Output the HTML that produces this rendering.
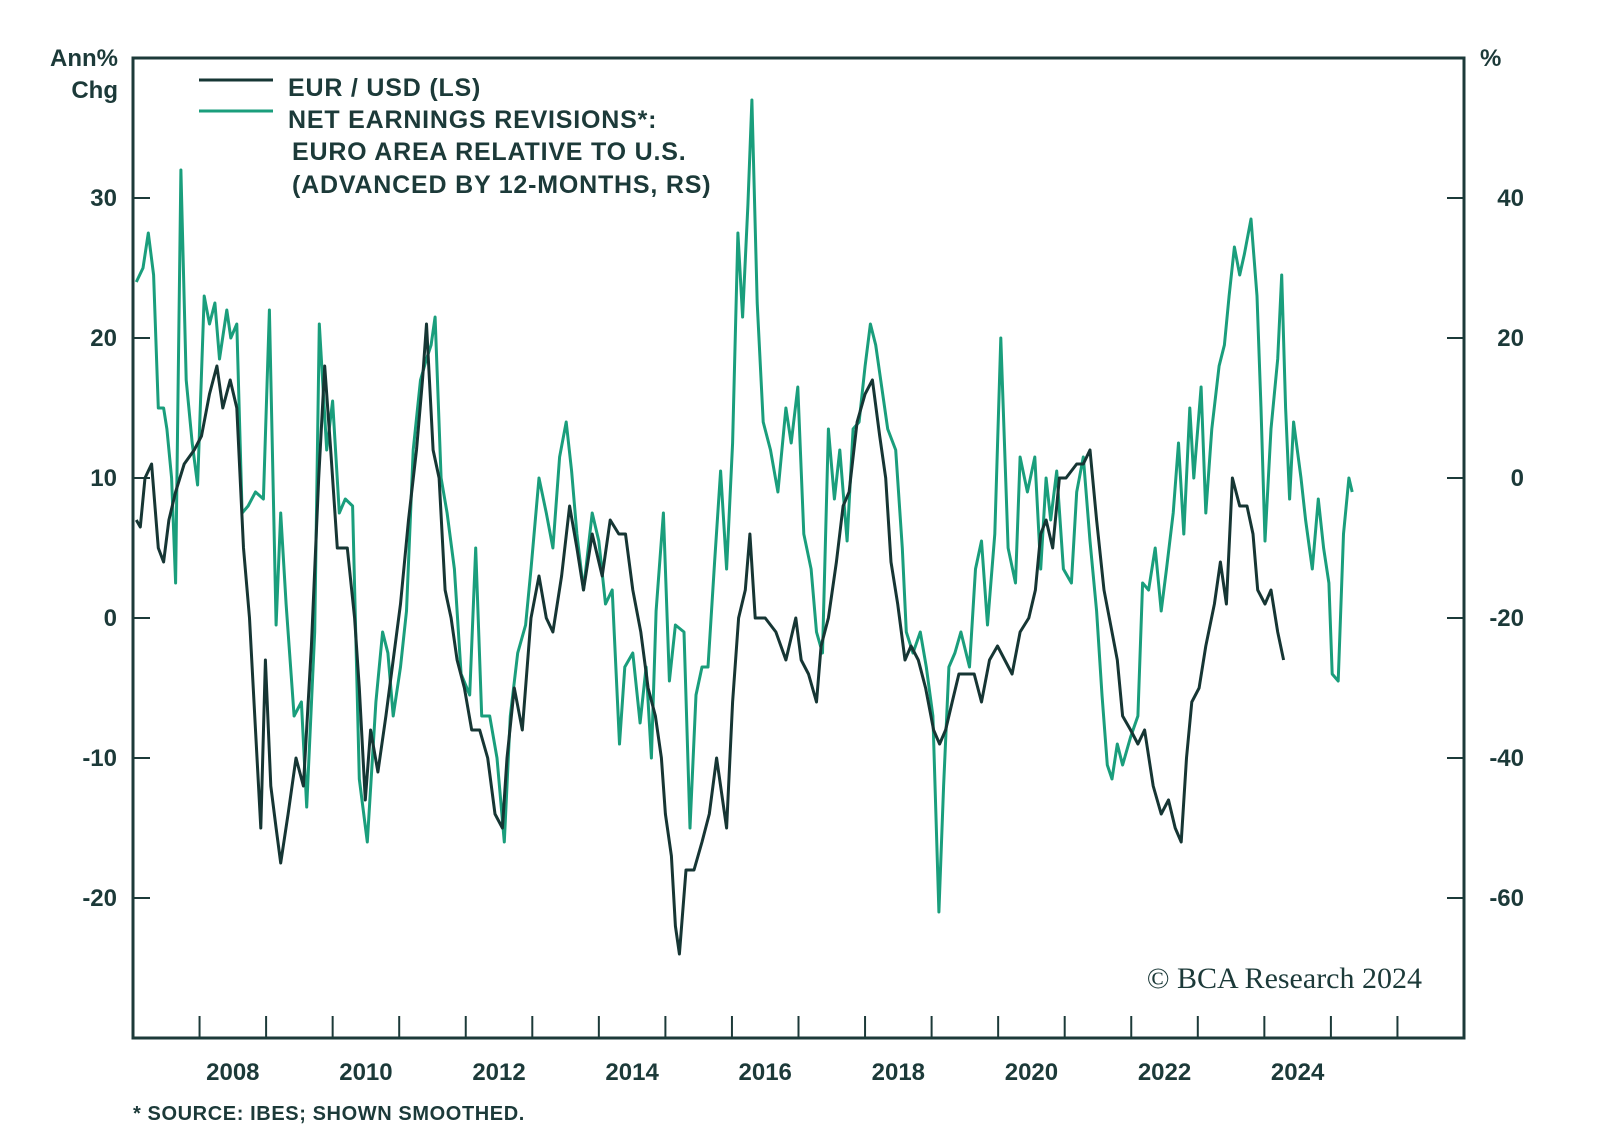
<!DOCTYPE html>
<html><head><meta charset="utf-8"><style>
body{margin:0;background:#fff;}
svg{display:block;font-family:"Liberation Sans",sans-serif;}
.t{fill:#1c3a39;font-weight:bold;}
</style></head><body>
<svg id="chart" width="1600" height="1140" viewBox="0 0 1600 1140">
<g id="axes"></g>
<g id="series"></g>
<g id="legend">
<line x1="199" y1="80" x2="273" y2="80" stroke="#163634" stroke-width="3"/>
<line x1="199" y1="111" x2="273" y2="111" stroke="#1a9e7c" stroke-width="3"/>
<text class="t" x="288" y="96" font-size="25" letter-spacing="0.8">EUR / USD (LS)</text>
<text class="t" x="288" y="128" font-size="25" letter-spacing="0.8">NET EARNINGS REVISIONS*:</text>
<text class="t" x="292" y="160" font-size="25" letter-spacing="0.8">EURO AREA RELATIVE TO U.S.</text>
<text class="t" x="292" y="193" font-size="25" letter-spacing="0.8">(ADVANCED BY 12-MONTHS, RS)</text>
</g>
<text class="t" x="118" y="66" font-size="24" text-anchor="end">Ann%</text>
<text class="t" x="118" y="98" font-size="24" text-anchor="end">Chg</text>
<text class="t" x="1480" y="66" font-size="24">%</text>
<text x="1422" y="988" font-size="30" text-anchor="end" fill="#1c3a39" font-family="Liberation Serif,serif">© BCA Research 2024</text>
<text class="t" x="133" y="1120" font-size="20" letter-spacing="0.6">*  SOURCE: IBES; SHOWN SMOOTHED.</text>
</svg>
<script>
const yearTicks=[2008,2009,2010,2011,2012,2013,2014,2015,2016,2017,2018,2019,2020,2021,2022,2023,2024,2025,2026];
const yearLabels=[2008,2010,2012,2014,2016,2018,2020,2022,2024];
const leftTicks=[30,20,10,0,-10,-20];
const rightTicks=[40,20,0,-20,-40,-60];
const eurDates=[2007.05,2007.11,2007.18,2007.28,2007.38,2007.46,2007.54,2007.64,2007.77,2007.92,2008.03,2008.15,2008.26,2008.35,2008.46,2008.56,2008.66,2008.75,2008.84,2008.92,2008.99,2009.07,2009.15,2009.22,2009.33,2009.45,2009.56,2009.68,2009.79,2009.88,2009.97,2010.07,2010.22,2010.33,2010.40,2010.49,2010.57,2010.68,2010.80,2010.91,2011.02,2011.14,2011.26,2011.35,2011.41,2011.51,2011.60,2011.69,2011.78,2011.87,2011.98,2012.09,2012.21,2012.33,2012.44,2012.55,2012.62,2012.73,2012.85,2012.98,2013.10,2013.21,2013.31,2013.44,2013.56,2013.67,2013.77,2013.90,2014.05,2014.17,2014.30,2014.40,2014.51,2014.63,2014.74,2014.85,2014.94,2015.00,2015.09,2015.15,2015.21,2015.31,2015.43,2015.55,2015.66,2015.77,2015.86,2015.92,2016.01,2016.10,2016.20,2016.27,2016.35,2016.50,2016.66,2016.81,2016.96,2017.04,2017.15,2017.27,2017.34,2017.45,2017.57,2017.67,2017.76,2017.88,2018.00,2018.11,2018.22,2018.31,2018.39,2018.49,2018.60,2018.69,2018.80,2018.91,2019.03,2019.12,2019.21,2019.31,2019.41,2019.54,2019.64,2019.75,2019.87,2019.99,2020.10,2020.21,2020.33,2020.46,2020.56,2020.64,2020.72,2020.82,2020.92,2021.02,2021.18,2021.28,2021.38,2021.48,2021.59,2021.71,2021.79,2021.87,2021.99,2022.10,2022.20,2022.33,2022.45,2022.56,2022.66,2022.75,2022.83,2022.91,2023.02,2023.12,2023.25,2023.34,2023.43,2023.52,2023.63,2023.74,2023.83,2023.90,2024.01,2024.10,2024.20,2024.29];
const eurValues=[7,6.5,10,11,5,4,7,9,11,12,13,16,18,15,17,15,5,0,-8,-15,-3,-12,-15,-17.5,-14,-10,-12,-2,10,18,12,5,5,0,-5,-13,-8,-11,-7,-3,1,7,12,17,21,12,10,2,0,-3,-5,-8,-8,-10,-14,-15,-10,-5,-8,0,3,0,-1,3,8,5,2,6,3,7,6,6,2,-1,-5,-7,-10,-14,-17,-22,-24,-18,-18,-16,-14,-10,-13,-15,-6,0,2,6,0,0,-1,-3,0,-3,-4,-6,-2,0,4,8,9,14,16,17,13,10,4,1,-3,-2,-3,-5,-8,-9,-8,-6,-4,-4,-4,-6,-3,-2,-3,-4,-1,0,2,6,7,5,10,10,11,11,12,7,2,-1,-3,-7,-8,-9,-8,-12,-14,-13,-15,-16,-10,-6,-5,-2,1,4,1,10,8,8,6,2,1,2,-1,-3];
const revDates=[2007.05,2007.15,2007.23,2007.31,2007.38,2007.46,2007.51,2007.58,2007.64,2007.72,2007.80,2007.89,2007.97,2008.07,2008.15,2008.23,2008.30,2008.41,2008.47,2008.56,2008.64,2008.73,2008.84,2008.96,2009.05,2009.15,2009.22,2009.30,2009.42,2009.53,2009.61,2009.73,2009.80,2009.91,2010.00,2010.10,2010.19,2010.30,2010.40,2010.52,2010.65,2010.75,2010.83,2010.91,2011.02,2011.11,2011.21,2011.32,2011.41,2011.48,2011.54,2011.63,2011.72,2011.83,2011.93,2012.06,2012.15,2012.24,2012.36,2012.47,2012.58,2012.67,2012.78,2012.90,2012.98,2013.10,2013.21,2013.31,2013.41,2013.51,2013.59,2013.67,2013.77,2013.90,2014.00,2014.10,2014.20,2014.31,2014.39,2014.51,2014.62,2014.71,2014.79,2014.86,2014.97,2015.06,2015.15,2015.28,2015.37,2015.46,2015.55,2015.64,2015.74,2015.83,2015.92,2016.01,2016.09,2016.16,2016.24,2016.30,2016.38,2016.47,2016.58,2016.69,2016.81,2016.89,2016.99,2017.08,2017.19,2017.27,2017.36,2017.45,2017.54,2017.62,2017.73,2017.82,2017.91,2018.00,2018.08,2018.16,2018.25,2018.34,2018.46,2018.56,2018.62,2018.72,2018.83,2018.92,2019.02,2019.11,2019.18,2019.26,2019.35,2019.44,2019.57,2019.66,2019.75,2019.84,2019.95,2020.04,2020.15,2020.26,2020.33,2020.44,2020.55,2020.64,2020.72,2020.79,2020.88,2020.98,2021.10,2021.18,2021.28,2021.38,2021.48,2021.56,2021.64,2021.71,2021.79,2021.87,2021.99,2022.10,2022.17,2022.26,2022.36,2022.45,2022.53,2022.63,2022.71,2022.79,2022.88,2022.94,2023.05,2023.12,2023.21,2023.32,2023.40,2023.47,2023.55,2023.63,2023.70,2023.80,2023.89,2023.95,2024.01,2024.10,2024.20,2024.26,2024.32,2024.38,2024.44,2024.55,2024.62,2024.72,2024.81,2024.89,2024.97,2025.02,2025.11,2025.19,2025.27,2025.32];
const revValues=[28,30,35,29,10,10,7,0,-15,44,14,5,-1,26,22,25,17,24,20,22,-5,-4,-2,-3,24,-21,-5,-18,-34,-32,-47,-22,22,4,11,-5,-3,-4,-43,-52,-32,-22,-25,-34,-27,-19,4,14,17,19,23,0,-5,-13,-28,-31,-10,-34,-34,-40,-52,-34,-25,-21,-13,0,-5,-10,3,8,1,-8,-16,-5,-9,-18,-16,-38,-27,-25,-35,-27,-40,-19,-5,-29,-21,-22,-50,-31,-27,-27,-12,1,-13,5,35,23,39,54,25,8,4,-2,10,5,13,-8,-13,-22,-25,7,-3,4,-9,7,8,16,22,19,13,7,4,-10,-22,-25,-22,-27,-34,-62,-44,-27,-25,-22,-27,-13,-9,-21,-8,20,-10,-15,3,-2,3,-13,0,-6,1,-13,-15,-2,3,-9,-19,-31,-41,-43,-38,-41,-37,-34,-15,-16,-10,-19,-13,-5,5,-8,10,0,13,-5,7,16,19,26,33,29,32,37,26,10,-9,7,17,29,10,-3,8,0,-6,-13,-3,-10,-15,-28,-29,-8,0,-2];

const L=133,R=1464,T=58,B=1038,X0=2007,X1=2027,YMIN=-30,YMAX=40,RMIN=-80,RMAX=60;
const xs=t=>L+(t-X0)/(X1-X0)*(R-L);
const yl=v=>B-(v-YMIN)/(YMAX-YMIN)*(B-T);
const yr=v=>B-(v-RMIN)/(RMAX-RMIN)*(B-T);
const NS='http://www.w3.org/2000/svg';
const ax=document.getElementById('axes'),se=document.getElementById('series');
function mk(tag,attrs,parent){const e=document.createElementNS(NS,tag);for(const k in attrs)e.setAttribute(k,attrs[k]);parent.appendChild(e);return e;}
const C='#1c3a39';
let f=mk('rect',{x:L,y:T,width:R-L,height:B-T,fill:'none',stroke:C,'stroke-width':3},ax);


yearTicks.forEach(y=>{const l=mk('line',{x1:xs(y),x2:xs(y),y1:B,y2:B-22,stroke:C,'stroke-width':2},ax);

});
yearLabels.forEach(y=>{const t=mk('text',{x:xs(y+0.5),y:1080,'text-anchor':'middle','font-size':24,class:'t'},ax);t.textContent=y;

});
leftTicks.forEach(v=>{const l=mk('line',{x1:L,x2:L+17,y1:yl(v),y2:yl(v),stroke:C,'stroke-width':2},ax);


const t=mk('text',{x:117,y:yl(v)+8,'text-anchor':'end','font-size':24,class:'t'},ax);t.textContent=v;

});
rightTicks.forEach(v=>{const l=mk('line',{x1:R-17,x2:R,y1:yr(v),y2:yr(v),stroke:C,'stroke-width':2},ax);


const t=mk('text',{x:1524,y:yr(v)+8,'text-anchor':'end','font-size':24,class:'t'},ax);t.textContent=v;

});
const pr=mk('path',{d:revDates.map((d,i)=>(i?'L':'M')+xs(d).toFixed(1)+' '+yr(revValues[i]).toFixed(1)).join(''),fill:'none',stroke:'#1a9e7c','stroke-width':3,'stroke-linejoin':'round'},se);


const pe=mk('path',{d:eurDates.map((d,i)=>(i?'L':'M')+xs(d).toFixed(1)+' '+yl(eurValues[i]).toFixed(1)).join(''),fill:'none',stroke:'#163634','stroke-width':3,'stroke-linejoin':'round'},se);


</script>
</body></html>
